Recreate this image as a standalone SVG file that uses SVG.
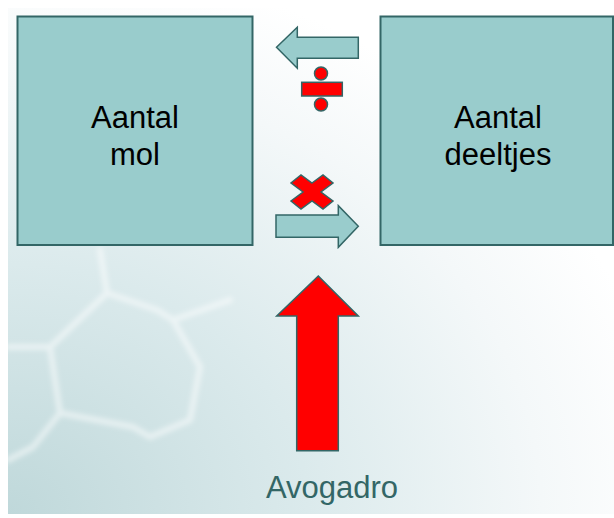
<svg xmlns="http://www.w3.org/2000/svg" width="614" height="518" viewBox="0 0 614 518">
<defs>
<radialGradient id="bg" cx="0" cy="1" r="1.1" gradientUnits="objectBoundingBox">
<stop offset="0" stop-color="#bfd8da"/>
<stop offset="0.45" stop-color="#dbeaec"/>
<stop offset="0.8" stop-color="#f4f8f9"/>
<stop offset="1" stop-color="#ffffff"/>
</radialGradient>
<filter id="soft" x="-10%" y="-10%" width="120%" height="120%"><feGaussianBlur stdDeviation="2.5"/></filter>
</defs>
<style>
.box{fill:#99cccc;stroke:#336666;stroke-width:2}
.arr{fill:#99cccc;stroke:#336666;stroke-width:1.5;stroke-linejoin:miter}
.red{fill:#ff0000;stroke:#336666;stroke-width:1.5}
.lbl{font-family:"Liberation Sans",Arial,sans-serif;font-size:31px;fill:#000;text-anchor:middle}
.av{font-family:"Liberation Sans",Arial,sans-serif;font-size:31px;fill:#336666;text-anchor:middle}
.hex{fill:none;stroke:#ffffff;stroke-width:6;stroke-opacity:0.5;stroke-linejoin:round;stroke-linecap:round}
</style>
<rect x="0" y="0" width="614" height="518" fill="#ffffff"/>
<rect x="8" y="8" width="606" height="506" fill="url(#bg)"/>
<g filter="url(#soft)">
<path class="hex" d="M100,250 L107,293 L157,310 L173,320 L200,367 L190,420 L150,437 L133,427 L60,413 L50,347 L107,293 M50,347 L8,347 M60,413 L33,447 L8,460 M173,320 L230,300"/>
</g>
<g id="mol">
<rect class="box" x="17.5" y="16.5" width="235" height="228.5"/>
<text class="lbl" x="135" y="128">Aantal</text>
<text class="lbl" x="135" y="165">mol</text>
</g>
<g id="deeltjes">
<rect class="box" x="380.5" y="16.5" width="232.5" height="228.5"/>
<text class="lbl" x="498" y="128">Aantal</text>
<text class="lbl" x="498" y="165">deeltjes</text>
</g>
<g id="connectors">
<polygon class="arr" points="276.5,47.3 297.3,27.3 297.3,37.3 358.3,37.3 358.3,58.3 297.3,58.3 297.3,68.3"/>
<polygon class="arr" points="276,215 338.3,215 338.3,205.7 358.3,226.3 338.3,247.3 338.3,237.3 276,237.3"/>
<polygon class="red" points="318.3,276 358.3,316 338.3,316 338.3,450.7 296.7,450.7 296.7,316 276.7,316"/>
</g>
<g id="divide">
<circle class="red" cx="321" cy="73.5" r="6.5"/>
<rect class="red" x="301.7" y="82.3" width="40.6" height="13.7"/>
<circle class="red" cx="321" cy="104.5" r="6.5"/>
</g>
<g id="times">
<polygon class="red" points="312,183 323,175 333,183 321,192 333,201 323,209 312,201 301,209 291,201 303,192 291,183 301,175"/>
</g>
<g id="avogadro">
<text class="av" x="332" y="498">Avogadro</text>
</g>
</svg>
